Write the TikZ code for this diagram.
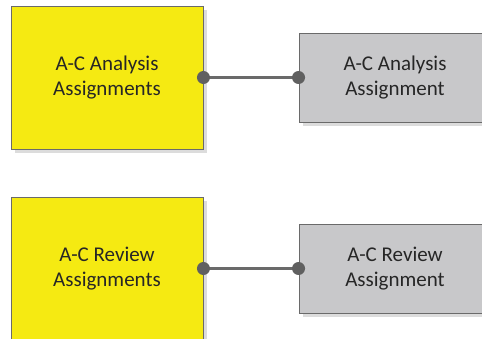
\documentclass[tikz,border=0pt]{standalone}
\usepackage{fontspec}
\setmainfont{Carlito}
\usetikzlibrary{shadows}
\definecolor{boxyellow}{HTML}{F5EA12}
\definecolor{boxgray}{HTML}{C8C8CA}
\definecolor{edgegray}{HTML}{6A6A6A}
\definecolor{dotgray}{HTML}{606060}
\definecolor{shadegray}{HTML}{DCDCDC}
\tikzset{
  card/.style={draw=edgegray, line width=0.9pt, minimum width=192pt,
    align=center, font=\fontsize{21}{24.6}\selectfont, text=black!85,
    inner sep=0pt,
    drop shadow={shadow xshift=4pt, shadow yshift=-4pt, fill=shadegray, opacity=1}},
  setbox/.style={card, fill=boxyellow, minimum height=143pt},
  itembox/.style={card, fill=boxgray, minimum height=89pt},
  link/.style={draw=edgegray, line width=2.2pt},
  joint/.style={circle, fill=dotgray, inner sep=0pt, minimum size=13pt}
}
\begin{document}
\begin{tikzpicture}[x=1pt,y=1pt]
\useasboundingbox (0,0) rectangle (482,339);
\clip (0,0) rectangle (482,339);
% upper pair
\node[setbox]  (sa) at (107,261.5) {A-C Analysis\\Assignments};
\node[itembox] (ia) at (395,261.5) {A-C Analysis\\Assignment};
% lower pair
\node[setbox]  (sr) at (107,70.5) {A-C Review\\Assignments};
\node[itembox] (ir) at (395,70.5) {A-C Review\\Assignment};
% connectors with round joints
\draw[link] (sa.east) -- (ia.west);
\draw[link] (sr.east) -- (ir.west);
\node[joint] (ja1) at (sa.east) {};
\node[joint] (ja2) at (ia.west) {};
\node[joint] (jr1) at (sr.east) {};
\node[joint] (jr2) at (ir.west) {};
\end{tikzpicture}
\end{document}
